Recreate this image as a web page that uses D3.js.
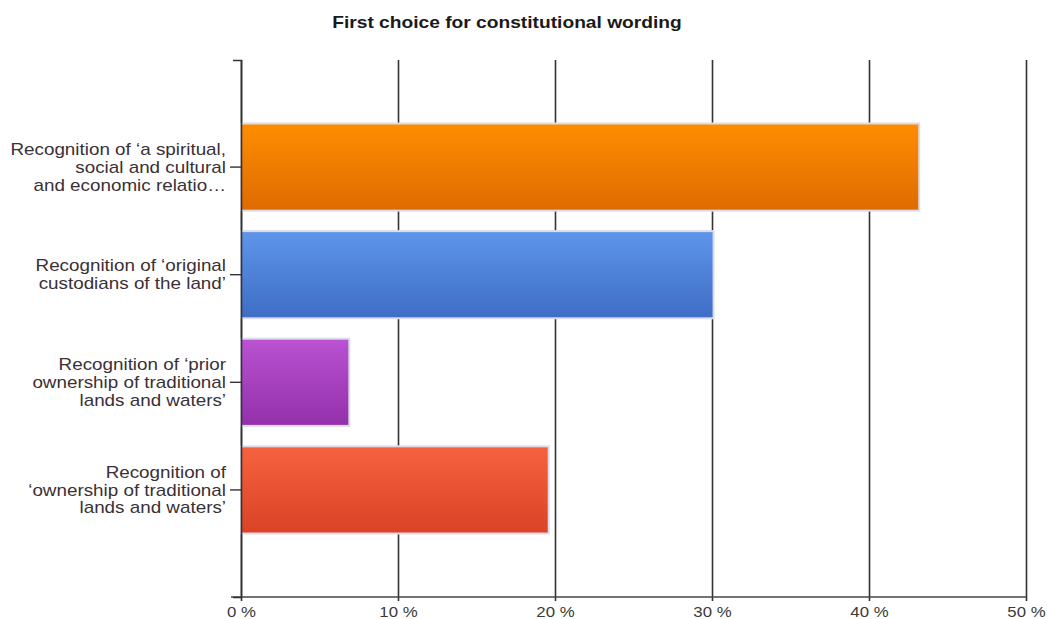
<!DOCTYPE html>
<html><head><meta charset="utf-8">
<script src="https://cdn.jsdelivr.net/npm/d3@7"></script>
<style>body{margin:0;background:#fff;} text{font-family:"Liberation Sans",Arial,sans-serif;}</style>
</head><body>
<svg id="c" width="1047" height="619"></svg>
<script>
const title = "First choice for constitutional wording";
const categories = [
  ["Recognition of \u2018a spiritual,", "social and cultural", "and economic relatio\u2026"],
  ["Recognition of \u2018original", "custodians of the land\u2019"],
  ["Recognition of \u2018prior", "ownership of traditional", "lands and waters\u2019"],
  ["Recognition of", "\u2018ownership of traditional", "lands and waters\u2019"]
];
const values = [43.2, 30.1, 6.9, 19.6];
const tickValues = [0, 10, 20, 30, 40, 50];
const tickLabels = ["0 %", "10 %", "20 %", "30 %", "40 %", "50 %"];
const colorsTop = ["#ff8d00", "#5e95ea", "#ba52d2", "#f6623f"];
const colorsBottom = ["#de6b00", "#3e6dc6", "#9330a9", "#db4226"];

(function () {
const svg = d3.select("#c");
const mLeft = 241, mRight = 1026, mTop = 60, mBottom = 597;
const sx = 1.2;
const stretch = ax => `translate(${ax},0) scale(${sx},1) translate(${-ax},0)`;
const x = d3.scaleLinear().domain([0, 50]).range([mLeft, mRight]);
const ids = categories.map((d, i) => i);
const y = d3.scaleBand().domain(ids).range([mTop, mBottom]).paddingInner(0.19).paddingOuter(0.59);

const defs = svg.append("defs");
ids.forEach(i => {
  const g = defs.append("linearGradient").attr("id", "g" + i).attr("x1", 0).attr("y1", 0).attr("x2", 0).attr("y2", 1);
  g.append("stop").attr("offset", "0%").attr("stop-color", colorsTop[i]);
  g.append("stop").attr("offset", "100%").attr("stop-color", colorsBottom[i]);
});

svg.append("text").attr("x", 507).attr("y", 28).attr("text-anchor", "middle")
  .attr("transform", stretch(507))
  .attr("font-size", 16).attr("font-weight", "bold").attr("fill", "#1a1a1a").text(title);

const xAxis = d3.axisBottom(x).tickValues(tickValues).tickFormat((d, i) => tickLabels[i])
  .tickSize(0).tickSizeOuter(0).tickPadding(8);
const gx = svg.append("g").attr("transform", `translate(0,${mBottom})`).call(xAxis);
gx.select(".domain").remove();
gx.selectAll(".tick line").attr("stroke", "#333").attr("stroke-width", 1.6).attr("y2", -(mBottom - mTop)).attr("y1", 4);
gx.selectAll(".tick text").attr("font-size", 14).attr("fill", "#3a3a3a").attr("dy", null).attr("y", 20)
  .attr("transform", stretch(0));
svg.append("line").attr("x1", 231).attr("x2", mRight).attr("y1", mBottom).attr("y2", mBottom)
  .attr("stroke", "#444").attr("stroke-width", 1.6);

svg.append("g").selectAll("rect").data(values).join("rect")
  .attr("x", x(0)).attr("y", (d, i) => y(i)).attr("width", d => x(d) - x(0)).attr("height", y.bandwidth())
  .attr("fill", (d, i) => `url(#g${i})`).attr("stroke", "#dcdce8").attr("stroke-width", 2);

const yAxis = d3.axisLeft(y).tickSize(11).tickSizeOuter(8).tickFormat("");
const gy = svg.append("g").attr("transform", `translate(${mLeft},0)`).call(yAxis);
gy.select(".domain").attr("stroke", "#333").attr("stroke-width", 1.6);
gy.selectAll(".tick line").attr("stroke", "#333").attr("stroke-width", 1.4);

const lh = 17.8;
const lab = svg.append("g");
categories.forEach((lines, i) => {
  const cy = y(i) + y.bandwidth() / 2;
  const t = lab.append("text").attr("text-anchor", "end").attr("font-size", 15.7).attr("fill", "#3a3036")
    .attr("transform", stretch(226));
  lines.forEach((s, k) => {
    t.append("tspan").attr("x", 226).attr("y", cy + (k - (lines.length - 1) / 2) * lh).attr("dy", "0.36em").text(s);
  });
});
})();
</script>
</body></html>
